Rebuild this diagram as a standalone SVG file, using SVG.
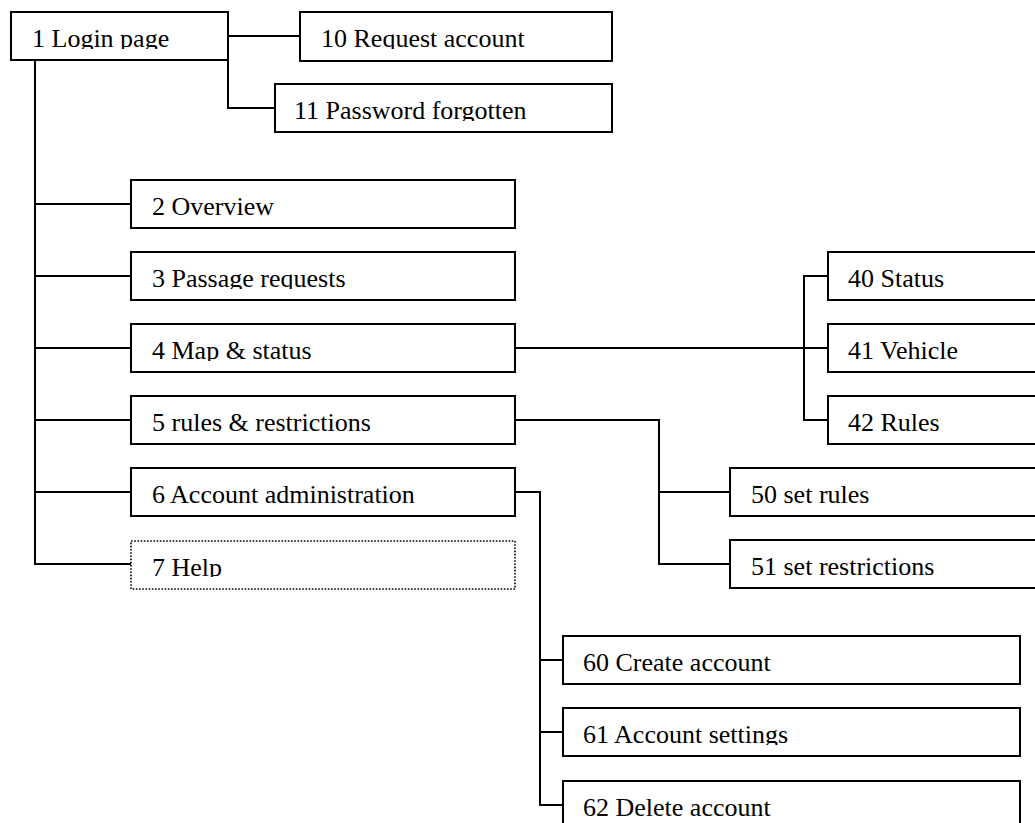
<svg xmlns="http://www.w3.org/2000/svg" width="1035" height="823" viewBox="0 0 1035 823">
  <style>
    .box { fill: #ffffff; stroke: #000000; stroke-width: 2; }
    .dotted { fill: #ffffff; stroke: #000000; stroke-width: 1.6; stroke-dasharray: 1.6 1.6; }
    .link { fill: none; stroke: #000000; stroke-width: 2; }
    .label { font-family: "Liberation Serif", "Times New Roman", serif; font-size: 26px; fill: #000000; }
  </style>
  <defs>
    <!-- text frames cut the descenders just under the baseline -->
    <clipPath id="c1"><rect x="11" y="12" width="217" height="37"/></clipPath>
    <clipPath id="c10"><rect x="300" y="12" width="312" height="37"/></clipPath>
    <clipPath id="c11"><rect x="275" y="84" width="337" height="37"/></clipPath>
    <clipPath id="c2"><rect x="131" y="180" width="384" height="37"/></clipPath>
    <clipPath id="c3"><rect x="131" y="252" width="384" height="37"/></clipPath>
    <clipPath id="c4"><rect x="131" y="324" width="384" height="37"/></clipPath>
    <clipPath id="c5"><rect x="131" y="396" width="384" height="37"/></clipPath>
    <clipPath id="c6"><rect x="131" y="468" width="384" height="37"/></clipPath>
    <clipPath id="c7"><rect x="131" y="540" width="384" height="37"/></clipPath>
    <clipPath id="c40"><rect x="828" y="252" width="210" height="37"/></clipPath>
    <clipPath id="c41"><rect x="828" y="324" width="210" height="37"/></clipPath>
    <clipPath id="c42"><rect x="828" y="396" width="210" height="37"/></clipPath>
    <clipPath id="c50"><rect x="730" y="468" width="310" height="37"/></clipPath>
    <clipPath id="c51"><rect x="730" y="540" width="310" height="37"/></clipPath>
    <clipPath id="c60"><rect x="563" y="636" width="457" height="37"/></clipPath>
    <clipPath id="c61"><rect x="563" y="708" width="457" height="37"/></clipPath>
    <clipPath id="c62"><rect x="563" y="781" width="457" height="37"/></clipPath>
  </defs>

  <g id="connectors">
    <!-- login page to its side pages -->
    <polyline class="link" points="228,36 300,36"/>
    <polyline class="link" points="228,36 228,108 275,108"/>
    <!-- main trunk -->
    <polyline class="link" points="35,60 35,564 131,564"/>
    <line class="link" x1="35" y1="204" x2="131" y2="204"/>
    <line class="link" x1="35" y1="276" x2="131" y2="276"/>
    <line class="link" x1="35" y1="348" x2="131" y2="348"/>
    <line class="link" x1="35" y1="420" x2="131" y2="420"/>
    <line class="link" x1="35" y1="492" x2="131" y2="492"/>
    <!-- map & status branch -->
    <line class="link" x1="515" y1="348" x2="828" y2="348"/>
    <polyline class="link" points="828,276 804,276 804,420 828,420"/>
    <!-- rules & restrictions branch -->
    <polyline class="link" points="515,420 659,420 659,564 730,564"/>
    <line class="link" x1="659" y1="492" x2="730" y2="492"/>
    <!-- account administration branch -->
    <polyline class="link" points="515,492 540,492 540,805 563,805"/>
    <line class="link" x1="540" y1="660" x2="563" y2="660"/>
    <line class="link" x1="540" y1="732" x2="563" y2="732"/>
  </g>

  <g id="n1"><rect class="box" x="11" y="12" width="217" height="48"/><text class="label" x="32" y="47" clip-path="url(#c1)">1 Login page</text></g>
  <g id="n10"><rect class="box" x="300" y="12" width="312" height="49"/><text class="label" x="321" y="47" clip-path="url(#c10)">10 Request account</text></g>
  <g id="n11"><rect class="box" x="275" y="84" width="337" height="48"/><text class="label" x="294" y="119" clip-path="url(#c11)">11 Password forgotten</text></g>

  <g id="n2"><rect class="box" x="131" y="180" width="384" height="48"/><text class="label" x="152" y="215" clip-path="url(#c2)">2 Overview</text></g>
  <g id="n3"><rect class="box" x="131" y="252" width="384" height="48"/><text class="label" x="152" y="287" clip-path="url(#c3)">3 Passage requests</text></g>
  <g id="n4"><rect class="box" x="131" y="324" width="384" height="48"/><text class="label" x="152" y="359" clip-path="url(#c4)">4 Map &amp; status</text></g>
  <g id="n5"><rect class="box" x="131" y="396" width="384" height="48"/><text class="label" x="152" y="431" clip-path="url(#c5)">5 rules &amp; restrictions</text></g>
  <g id="n6"><rect class="box" x="131" y="468" width="384" height="48"/><text class="label" x="152" y="503" clip-path="url(#c6)">6 Account administration</text></g>
  <g id="n7"><rect class="dotted" x="131" y="541" width="384" height="48"/><text class="label" x="152" y="576" clip-path="url(#c7)">7 Help</text></g>

  <g id="n40"><rect class="box" x="828" y="252" width="212" height="48"/><text class="label" x="848" y="287" clip-path="url(#c40)">40 Status</text></g>
  <g id="n41"><rect class="box" x="828" y="324" width="212" height="48"/><text class="label" x="848" y="359" clip-path="url(#c41)">41 Vehicle</text></g>
  <g id="n42"><rect class="box" x="828" y="396" width="212" height="48"/><text class="label" x="848" y="431" clip-path="url(#c42)">42 Rules</text></g>

  <g id="n50"><rect class="box" x="730" y="468" width="310" height="48"/><text class="label" x="751" y="503" clip-path="url(#c50)">50 set rules</text></g>
  <g id="n51"><rect class="box" x="730" y="540" width="310" height="48"/><text class="label" x="751" y="575" clip-path="url(#c51)">51 set restrictions</text></g>

  <g id="n60"><rect class="box" x="563" y="636" width="457" height="48"/><text class="label" x="583" y="671" clip-path="url(#c60)">60 Create account</text></g>
  <g id="n61"><rect class="box" x="563" y="708" width="457" height="48"/><text class="label" x="583" y="743" clip-path="url(#c61)">61 Account settings</text></g>
  <g id="n62"><rect class="box" x="563" y="781" width="457" height="48"/><text class="label" x="583" y="816" clip-path="url(#c62)">62 Delete account</text></g>
</svg>
